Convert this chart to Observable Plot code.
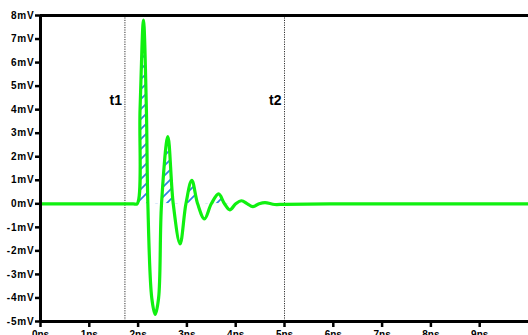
<!DOCTYPE html>
<html>
<head>
<meta charset="utf-8">
<script src="https://cdn.jsdelivr.net/npm/d3@7"></script>
<script src="https://cdn.jsdelivr.net/npm/@observablehq/plot@0.6"></script>
<style>
  html, body { margin: 0; padding: 0; background: #fff; overflow: hidden; }
  #chart svg { overflow: visible; }
</style>
</head>
<body>
<div id="chart"></div>
<script>
// Waveform: time (ns) and voltage (mV)
const times = [0, 1.0, 1.9, 1.98, 2.04, 2.11, 2.17, 2.2, 2.28, 2.35, 2.42, 2.48, 2.61, 2.72, 2.86, 2.98, 3.1, 3.22, 3.36, 3.5, 3.65, 3.77, 3.88, 4.0, 4.12, 4.24, 4.35, 4.48, 4.6, 4.8, 5.0, 6.0, 8.0, 10.0];
const volts = [0, 0, 0, 0, 4.0, 7.8, 4.0, 0, -4.0, -4.7, -4.0, 0, 2.85, 0, -1.7, 0, 1.0, 0, -0.64, 0, 0.42, 0, -0.26, 0, 0.13, 0, -0.12, 0, 0.05, -0.03, -0.02, 0, 0, 0];

// Marker lines
const markerTimes = [1.73, 5.0];
const markerNames = ["t1", "t2"];
const markerLabelLevel = 4.4;

// Axis ticks
const xTicks = [0, 1, 2, 3, 4, 5, 6, 7, 8, 9];
const yTicks = [-5, -4, -3, -2, -1, 0, 1, 2, 3, 4, 5, 6, 7, 8];

const data = times.map((t, i) => ({t, v: volts[i]}));
const hatchData = data.filter(d => d.t >= 1.9 && d.t <= 5.0);
const markers = markerTimes.map((t, i) => ({t, name: markerNames[i], level: markerLabelLevel}));

const green = "#10f010";

const chart = Plot.plot({
  width: 528,
  height: 335,
  marginLeft: 40,
  marginRight: 0,
  marginTop: 15,
  marginBottom: 14,
  style: {fontFamily: "Liberation Sans, Arial, sans-serif", fontWeight: "bold", fontSize: "10px", color: "#000", background: "#fff"},
  x: {domain: [0, 10]},
  y: {domain: [-5, 8]},
  marks: [
    Plot.areaY(hatchData, {x: "t", y: "v", curve: "catmull-rom", fill: "blue", className: "hatcharea"}),
    Plot.ruleX(markers, {x: "t", stroke: "#333", strokeWidth: 1, strokeDasharray: "1.2,1.2"}),
    Plot.text(markers, {x: "t", y: "level", text: "name", textAnchor: "end", dx: -3, fontSize: 14, fontWeight: "bold", letterSpacing: 1}),
    Plot.line(data, {x: "t", y: "v", curve: "catmull-rom", stroke: green, strokeWidth: 3.2, strokeLinejoin: "round"}),
    Plot.axisY({ticks: yTicks, tickFormat: d => `${d}mV`, tickSize: 5, tickPadding: 1, strokeWidth: 2.5, label: null, className: "yax"}),
    Plot.axisX({ticks: xTicks, tickFormat: d => `${d}ns`, tickSize: 6, tickPadding: 3, strokeWidth: 2.5, label: null}),
    Plot.ruleX([0], {stroke: "#000", strokeWidth: 3}),
    Plot.ruleY([-5], {stroke: "#000", strokeWidth: 3}),
    Plot.ruleY([8], {stroke: "#000", strokeWidth: 3})
  ]
});

// hatch pattern and clip to the positive half
const svg = d3.select(chart);
const y0 = chart.scale("y").apply(0);
const defs = svg.insert("defs", ":first-child");
const pat = defs.append("pattern")
  .attr("id", "hatch")
  .attr("patternUnits", "userSpaceOnUse")
  .attr("width", 10)
  .attr("height", 10);
pat.append("path")
  .attr("d", "M-1,1 l2,-2 M0,10 l10,-10 M9,11 l2,-2")
  .attr("stroke", "#2f7fe6")
  .attr("stroke-width", 1.7)
  .attr("fill", "none");
defs.append("clipPath").attr("id", "posclip")
  .append("rect").attr("x", 0).attr("y", 0).attr("width", 528).attr("height", y0);
svg.selectAll("g.hatcharea").attr("clip-path", "url(#posclip)");
svg.selectAll("g.hatcharea path").attr("fill", "url(#hatch)").attr("stroke", "none");
svg.selectAll("g.yax text").attr("letter-spacing", "0.8");

document.getElementById("chart").appendChild(chart);
</script>
</body>
</html>
